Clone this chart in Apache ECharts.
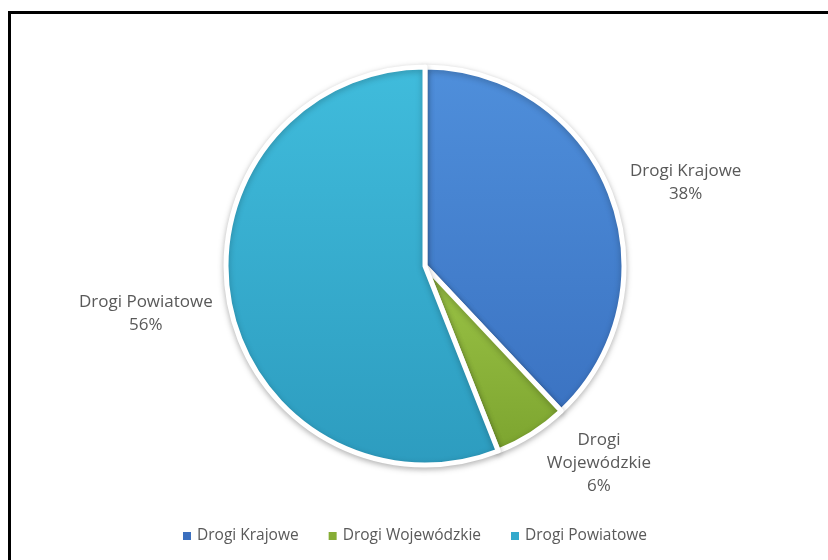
<!DOCTYPE html>
<html>
<head>
<meta charset="utf-8">
<script src="https://cdn.jsdelivr.net/npm/echarts@6/dist/echarts.min.js"></script>
<style>
  html, body { margin: 0; padding: 0; background: #fff; }
  #wrap { position: relative; width: 828px; height: 560px; overflow: hidden; }
  #frame { position: absolute; left: 8px; top: 11px; width: 900px; height: 700px;
           border-left: 3px solid #000; border-top: 3px solid #000; }
  #chart { position: absolute; left: 0; top: 0; width: 828px; height: 560px; }
</style>
</head>
<body>
<div id="wrap">
  <div id="frame"></div>
  <div id="chart"></div>
</div>
<script>
// Road network share by road category
const categories = ['Drogi Krajowe', 'Drogi Wojewódzkie', 'Drogi Powiatowe'];
const shares = [38, 6, 56];
const labelLines = [['Drogi Krajowe'], ['Drogi', 'Wojewódzkie'], ['Drogi Powiatowe']];

// slice fill: light top -> dark bottom
const palette = [
  ['#4f8fdb', '#3b73c2'],
  ['#9cc447', '#7ca42f'],
  ['#40bcdc', '#2d9cbf']
];
const legendColors = ['#3a6fbf', '#86ad35', '#33a9cc'];
const labelLineLen = [16, 34, 14];
const labelShiftX = [0, -8, 2];
const labelShiftY = [-4, 0, 8];

const chart = echarts.init(document.getElementById('chart'), null, { renderer: 'canvas' });

const data = categories.map((name, i) => ({
  name: name,
  value: shares[i],
  itemStyle: {
    color: new echarts.graphic.LinearGradient(0, 0, 0, 1, [
      { offset: 0, color: palette[i][0] },
      { offset: 1, color: palette[i][1] }
    ])
  },
  labelLine: { length: labelLineLen[i], length2: 0 }
}));

chart.setOption({
  animation: false,
  legend: {
    bottom: 11,
    left: 'center',
    icon: 'rect',
    itemWidth: 10,
    itemHeight: 10,
    itemGap: 28,
    textStyle: { fontFamily: 'Open Sans', fontSize: 15.5, color: '#595959' },
    data: categories.map((name, i) => ({ name: name, itemStyle: { color: legendColors[i] } }))
  },
  series: [{
    type: 'pie',
    center: [425, 266],
    radius: 199,
    startAngle: 90,
    clockwise: true,
    data: data,
    itemStyle: {
      borderColor: '#fff',
      borderWidth: 5,
      shadowColor: 'rgba(0,0,0,0.25)',
      shadowBlur: 6,
      shadowOffsetY: 2
    },
    label: {
      show: true,
      position: 'outside',
      formatter: function (p) {
        return labelLines[p.dataIndex].concat([p.percent.toFixed(0) + '%'])
          .map(function (s) { return '{t|' + s + '}'; }).join('\n');
      },
      rich: {
        t: {
          fontFamily: 'Open Sans',
          fontSize: 17,
          lineHeight: 23,
          color: '#595959',
          align: 'center'
        }
      }
    },
    labelLine: { show: false },
    labelLayout: function (p) {
      return { dx: labelShiftX[p.dataIndex], dy: labelShiftY[p.dataIndex] };
    },
    emphasis: { disabled: true }
  }]
});
</script>
</body>
</html>
